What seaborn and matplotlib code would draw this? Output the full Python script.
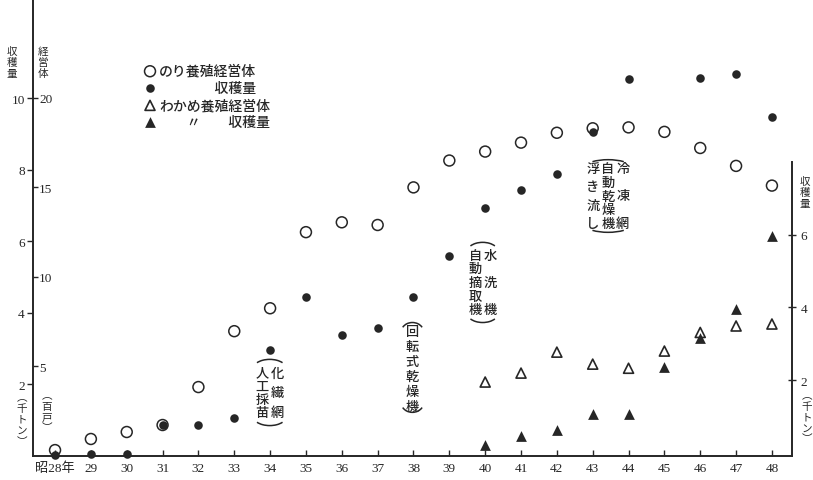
import numpy as np
import matplotlib
matplotlib.use("Agg")
import matplotlib.pyplot as plt
from matplotlib.patches import Arc
import seaborn as sns

# ---------------- data ----------------
years = list(range(28, 49))
year_labels = ["昭28年"] + [str(y) for y in range(29, 49)]
# のり養殖経営体 (百戸)
nori_units = [0.33, 0.95, 1.34, 1.73, 3.85, 6.97, 8.25, 12.5, 13.05, 12.9, 15.0,
              16.5, 17.0, 17.5, 18.05, 18.3, 18.35, 18.1, 17.2, 16.2, 15.1]
# のり収穫量 (千トン)
nori_harvest = [0.03, 0.05, 0.05, 0.87, 0.87, 1.06, 2.96, 4.44, 3.38, 3.58, 4.44,
                5.59, 6.93, 7.43, 7.88, 9.05, 10.53, np.nan, 10.56, 10.67, 9.47]
wakame_years = list(range(40, 49))
# わかめ養殖経営体 (百戸)
wakame_units = [4.13, 4.63, 5.8, 5.13, 4.9, 5.86, 6.9, 7.26, 7.37]
# わかめ収穫量 (千トン, right axis)
wakame_harvest = [0.22, 0.47, 0.63, 1.07, 1.07, 2.36, 3.15, 3.95, 5.97]

legend_labels = ["のり養殖経営体", "　　　　収穫量", "わかめ養殖経営体", "　　〃　　収穫量"]
left_ticks = [2, 4, 6, 8, 10]
unit_ticks = [5, 10, 15, 20]
right_ticks = [2, 4, 6]

annotations = [
    # (column x positions, column texts, char top, char bottom, arc top, arc bottom, arc centre, half width)
    ([33.77, 34.20], ["人工採苗", "化繊網"], 2.33, 1.22, 2.70, 0.85, 33.99, 0.42),
    ([37.97], ["回転式乾燥機"], 3.50, 1.41, 3.73, 1.22, 37.97, 0.28),
    ([39.72, 40.13], ["自動摘取機", "水洗機"], 5.63, 4.10, 5.97, 3.73, 39.93, 0.39),
    ([43.01, 43.43, 43.84], ["浮き流し", "自動乾燥機", "冷凍網"], 8.06, 6.50, 8.28, 6.25, 43.43, 0.64),
]

# vertical axis titles: (x px, first char y px, step px, text)
axis_titles = [
    (12, 52, 11, "収穫量"),
    (43, 52, 11, "経営体"),
    (22, 398, 11, "︵千トン︶"),
    (47, 396, 10.7, "︵百戸︶"),
    (805, 182, 11, "収穫量"),
    (807, 396, 10.8, "︵千トン︶"),
]

# ---------------- style ----------------
sns.set_theme(style="white")
CJK = "Noto Sans CJK JP"
plt.rcParams["font.family"] = ["Liberation Serif", CJK, "DejaVu Sans"]
INK = "#262626"

fig = plt.figure(figsize=(8.13, 4.81), dpi=100)
fig.patch.set_facecolor("white")
ax = fig.add_axes([33 / 813, 24 / 481, 759 / 813, 457 / 481])
ax_e = ax.twinx()
ax_w = ax.twinx()

for a in (ax, ax_e, ax_w):
    a.set_xlim(27.385, 48.56)
    a.set_facecolor("none")
    for s in a.spines.values():
        s.set_visible(False)
ax.set_ylim(0, 12.77)
ax_e.set_ylim(0, 25.52)
ax_w.set_ylim(-0.08, 12.47)

ax.spines["left"].set_visible(True)
ax.spines["bottom"].set_visible(True)
ax_w.spines["right"].set_visible(True)
ax_w.spines["right"].set_bounds(-0.08, 8.0)
for sp in (ax.spines["left"], ax.spines["bottom"], ax_w.spines["right"]):
    sp.set_color(INK)
    sp.set_linewidth(1.4)

# ticks
ax.set_xticks(years, year_labels)
ax.tick_params(axis="x", direction="in", length=4, width=1, colors=INK,
               labelsize=9.5, pad=4, bottom=True)
ax.set_yticks(left_ticks)
ax.tick_params(axis="y", direction="out", length=4, width=1, colors=INK,
               labelsize=9.5, pad=2, left=True, right=False)

ax_e.yaxis.tick_left()
ax_e.set_yticks(unit_ticks)
ax_e.tick_params(axis="y", direction="in", length=3.5, width=1, colors=INK,
                 labelsize=9.5, pad=-4.5, left=True, right=False,
                 labelleft=True, labelright=False)
for t in ax_e.get_yticklabels():
    t.set_horizontalalignment("left")

ax_w.set_yticks(right_ticks)
ax_w.tick_params(axis="y", direction="inout", length=6, width=1, colors=INK,
                 labelsize=9.5, pad=3, right=True, left=False,
                 labelright=True, labelleft=False)

# ---------------- marks ----------------
sns.scatterplot(x=years, y=nori_units, ax=ax_e, marker="o", s=62,
                facecolor="none", edgecolor=INK, linewidth=1.1,
                zorder=3, clip_on=False, legend=False)
sns.scatterplot(x=wakame_years, y=wakame_units, ax=ax_e, marker="^", s=52,
                facecolor="none", edgecolor=INK, linewidth=1.2,
                zorder=3, clip_on=False, legend=False)
sns.scatterplot(x=years, y=nori_harvest, ax=ax, marker="o", s=38,
                color=INK, edgecolor=INK, linewidth=0,
                zorder=3, clip_on=False, legend=False)
sns.scatterplot(x=wakame_years, y=wakame_harvest, ax=ax_w, marker="^", s=60,
                color=INK, edgecolor=INK, linewidth=0,
                zorder=3, clip_on=False, legend=False)

handles = [ax_e.collections[0], ax.collections[0],
           ax_e.collections[1], ax_w.collections[0]]
leg = ax_w.legend(handles, legend_labels, loc="upper left",
                  bbox_to_anchor=(0.145, 0.858), frameon=False,
                  borderpad=0, borderaxespad=0, handlelength=1.0,
                  handletextpad=0.15, labelspacing=0.22,
                  prop={"family": CJK, "size": 10, "weight": "medium"})
for t in leg.get_texts():
    t.set_color(INK)

# ---------------- annotations ----------------
for xs, cols, ct, cb, at, ab, xc, hw in annotations:
    for x, chars in zip(xs, cols):
        ys = np.linspace(ct, cb, len(chars))
        for c, y in zip(chars, ys):
            ax.text(x, y, c, ha="center", va="center", fontsize=9.5,
                    family=CJK, weight="medium", color=INK)
    a = hw / 0.906
    b = 0.26
    ax.add_patch(Arc((xc, at - b), 2 * a, 2 * b, theta1=25, theta2=155,
                     color=INK, lw=1.1))
    ax.add_patch(Arc((xc, ab + b), 2 * a, 2 * b, theta1=205, theta2=335,
                     color=INK, lw=1.1))

# ---------------- axis titles (vertical writing) ----------------
for px, py0, step, s in axis_titles:
    for i, c in enumerate(s):
        fig.text(px / 813, 1 - (py0 + i * step) / 481, c, ha="center",
                 va="center", fontsize=7.6, family=CJK, color=INK)

fig.savefig("out.png", dpi=100, facecolor="white")
